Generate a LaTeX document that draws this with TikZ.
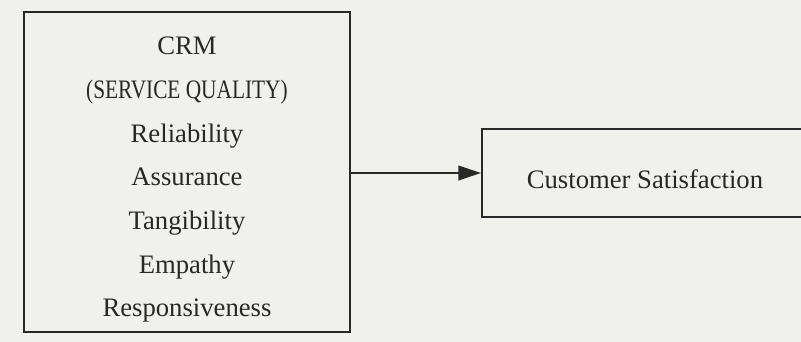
\documentclass[tikz,border=0pt]{standalone}
\usepackage{graphicx}
\usepackage{fontspec}
\setmainfont{Liberation Serif}
\usetikzlibrary{arrows.meta}
\definecolor{paper}{RGB}{240,240,237}
\definecolor{ink}{RGB}{40,40,40}
\begin{document}
\begin{tikzpicture}[x=0.75pt,y=-0.75pt,
  boxline/.style={draw=ink, line width=1.6pt},
  label/.style={text=ink, font=\fontsize{20}{32.75}\selectfont, align=center, inner sep=0pt},
  link/.style={draw=ink, line width=1.6pt, -{Triangle[length=17pt,width=11pt]}}]
\useasboundingbox (0,0) rectangle (801,342);
\fill[paper] (0,0) rectangle (801,342);
\clip (0,0) rectangle (801,342);
\node[boxline, minimum width=244.5pt, minimum height=240pt, inner sep=0pt] (crm) at (187,172) {};
\node[label, anchor=north] (crmtext) at (187,37) {CRM\\\scalebox{0.8}[1]{(SERVICE QUALITY)}\\Reliability\\Assurance\\Tangibility\\Empathy\\Responsiveness};
\node[boxline, minimum width=255pt, minimum height=66pt, inner sep=0pt] (cs) at (652,173) {};
\node[label, anchor=base] (cstext) at (645,189) {Customer Satisfaction};
\draw[link] (crm.east |- cs.west) -- (cs.west);
\end{tikzpicture}
\end{document}
